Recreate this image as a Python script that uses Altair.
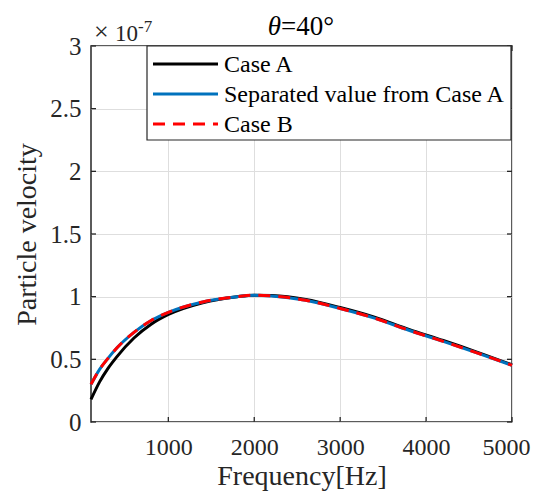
import altair as alt
import pandas as pd

# ---- data ----
freq = [100, 200, 300, 400, 600, 800, 1000, 1400, 1800, 2000, 2200, 2600,
        3000, 3400, 3800, 4200, 4600, 5000]
case_a = [0.18, 0.32, 0.43, 0.52, 0.67, 0.78, 0.858, 0.952, 1.0, 1.012, 1.009,
          0.977, 0.913, 0.836, 0.739, 0.650, 0.556, 0.456]
separated = [0.30, 0.42, 0.51, 0.59, 0.715, 0.81, 0.875, 0.958, 1.0, 1.012,
             1.006, 0.971, 0.906, 0.829, 0.732, 0.643, 0.550, 0.452]
case_b = [0.30, 0.42, 0.51, 0.59, 0.715, 0.81, 0.875, 0.958, 1.0, 1.012,
          1.006, 0.971, 0.906, 0.829, 0.732, 0.643, 0.550, 0.452]

series_names = ["Case A", "Separated value from Case A", "Case B"]
series_colors = ["#000000", "#0072BD", "#FF0000"]

x_ticks = [1000, 2000, 3000, 4000, 5000]
y_ticks = [0, 0.5, 1, 1.5, 2, 2.5, 3]

W, H = 421, 376
FONT = "Liberation Serif"
TXT = "#262626"

x_scale = alt.Scale(domain=[100, 5000], nice=False, zero=False)
y_scale = alt.Scale(domain=[0, 3], nice=False)

df_a = pd.DataFrame({"f": freq, "v": case_a})
df_s = pd.DataFrame({"f": freq, "v": separated})
df_b = pd.DataFrame({"f": freq, "v": case_b})

ax_style = dict(labelFont=FONT, labelColor=TXT,
                titleFont=FONT, titleFontSize=28, titleFontWeight="normal",
                titleColor=TXT, gridColor="#dedede", gridWidth=1)
x_axis = alt.Axis(values=x_ticks, format="d", tickSize=0, domain=False,
                  grid=True, labelPadding=13, labelFlush=False,
                  labelFontSize=24,
                  labelOffset={"condition": {"test": "datum.value == 5000",
                                             "value": -6}, "value": 0},
                  labelOverlap=False, title="Frequency[Hz]",
                  titlePadding=3, **ax_style)
y_axis = alt.Axis(values=y_ticks, format="~g", tickSize=0, domain=False,
                  grid=True, labelPadding=10, labelOverlap=False,
                  labelFontSize=25,
                  title="Particle velocity", titlePadding=8, **ax_style)

line_a = alt.Chart(df_a).mark_line(color=series_colors[0], strokeWidth=3,
                                   interpolate="monotone").encode(
    x=alt.X("f:Q", scale=x_scale, axis=x_axis),
    y=alt.Y("v:Q", scale=y_scale, axis=y_axis))
line_s = alt.Chart(df_s).mark_line(color=series_colors[1], strokeWidth=3,
                                   interpolate="monotone").encode(
    x=alt.X("f:Q", scale=x_scale), y=alt.Y("v:Q", scale=y_scale))
line_b = alt.Chart(df_b).mark_line(color=series_colors[2], strokeWidth=3,
                                   strokeDash=[12, 8],
                                   interpolate="monotone").encode(
    x=alt.X("f:Q", scale=x_scale), y=alt.Y("v:Q", scale=y_scale))

# inward ticks (MATLAB style box)
xt = pd.DataFrame({"t": x_ticks})
yt = pd.DataFrame({"t": y_ticks})
tk = dict(color=TXT, strokeWidth=1.3)
tick_b = alt.Chart(xt).mark_rule(**tk).encode(
    x=alt.X("t:Q", scale=x_scale), y=alt.value(H), y2=alt.value(H - 5))
tick_t = alt.Chart(xt).mark_rule(**tk).encode(
    x=alt.X("t:Q", scale=x_scale), y=alt.value(0), y2=alt.value(5))
tick_l = alt.Chart(yt).mark_rule(**tk).encode(
    y=alt.Y("t:Q", scale=y_scale), x=alt.value(0), x2=alt.value(5))
tick_r = alt.Chart(yt).mark_rule(**tk).encode(
    y=alt.Y("t:Q", scale=y_scale), x=alt.value(W), x2=alt.value(W - 5))

# legend box (manual, MATLAB look)
leg_box = alt.Chart(pd.DataFrame({"a": [0]})).mark_rect(
    fill="white", stroke=TXT, strokeWidth=1.2).encode(
    x=alt.value(56), x2=alt.value(420), y=alt.value(0), y2=alt.value(94))
leg_layers = []
row_y = [18, 48, 78]
for i, name in enumerate(series_names):
    kw = dict(color=series_colors[i], strokeWidth=3)
    if i == 2:
        kw["strokeDash"] = [12, 8]
    leg_layers.append(alt.Chart(pd.DataFrame({"a": [0]})).mark_rule(**kw).encode(
        x=alt.value(62), x2=alt.value(127), y=alt.value(row_y[i])))
    leg_layers.append(alt.Chart(pd.DataFrame({"a": [name]})).mark_text(
        font=FONT, fontSize=24, color="#000000", align="left",
        baseline="middle").encode(
        text="a:N", x=alt.value(133), y=alt.value(row_y[i] + 1)))

# title and exponent
t_theta = alt.Chart(pd.DataFrame({"a": ["θ"]})).mark_text(
    font=FONT, fontSize=27, fontStyle="italic", color="#000000",
    align="right", baseline="alphabetic").encode(
    text="a:N", x=alt.value(190), y=alt.value(-11))
t_rest = alt.Chart(pd.DataFrame({"a": ["=40°"]})).mark_text(
    font=FONT, fontSize=27, color="#000000", align="left",
    baseline="alphabetic").encode(
    text="a:N", x=alt.value(190), y=alt.value(-11))
e_times = alt.Chart(pd.DataFrame({"a": ["×"]})).mark_text(
    font=FONT, fontSize=26, color=TXT, align="left",
    baseline="alphabetic").encode(
    text="a:N", x=alt.value(3), y=alt.value(-6))
e_ten = alt.Chart(pd.DataFrame({"a": ["10"]})).mark_text(
    font=FONT, fontSize=23, color=TXT, align="left",
    baseline="alphabetic").encode(
    text="a:N", x=alt.value(24), y=alt.value(-5))
e_exp = alt.Chart(pd.DataFrame({"a": ["-7"]})).mark_text(
    font=FONT, fontSize=17, color=TXT, align="left",
    baseline="alphabetic").encode(
    text="a:N", x=alt.value(47), y=alt.value(-14))

chart = alt.layer(
    line_a, line_s, line_b, tick_b, tick_t, tick_l, tick_r,
    leg_box, *leg_layers, t_theta, t_rest, e_times, e_ten, e_exp
).properties(
    width=W, height=H,
    autosize=alt.AutoSizeParams(type="none"),
    padding={"left": 83, "top": 38, "right": 19, "bottom": 69},
).configure(
    background="white"
).configure_view(
    stroke=TXT, strokeWidth=1.5
).configure_axis(**ax_style)

chart.save("out.html", embed_options={"renderer": "svg", "actions": False})
